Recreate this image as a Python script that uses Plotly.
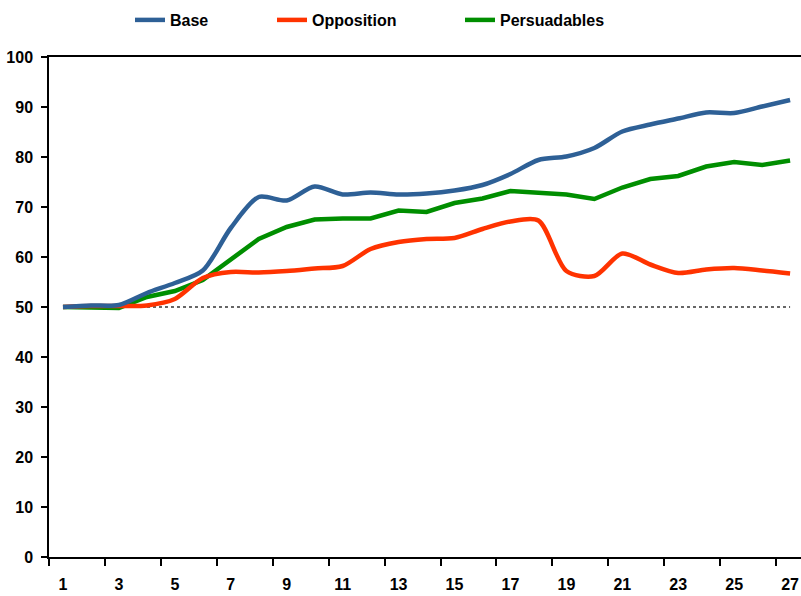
import plotly.graph_objects as go

categories = list(range(1, 28))
base = [50, 50.3, 50.4, 52.8, 54.8, 57.3, 65.8, 72.0, 71.3, 74.1, 72.5, 72.9, 72.5, 72.7,
        73.3, 74.4, 76.6, 79.4, 80.1, 81.8, 85.1, 86.5, 87.7, 88.9, 88.8, 90.1, 91.4]
opposition = [50, 50.2, 50.2, 50.3, 51.6, 55.8, 57.0, 56.9, 57.2, 57.7, 58.2, 61.6, 63.0, 63.6,
              63.8, 65.6, 67.1, 67.3, 57.2, 56.2, 60.7, 58.5, 56.8, 57.5, 57.8, 57.3, 56.7]
persuadables = [50, 49.8, 49.8, 52.0, 53.2, 55.4, 59.4, 63.6, 66.0, 67.5, 67.7, 67.7, 69.3, 69.0,
                70.8, 71.7, 73.2, 72.8, 72.5, 71.6, 73.9, 75.6, 76.2, 78.1, 79.0, 78.4, 79.3]
reference = [50] * 27
tick_labels = [str(c) for c in range(1, 28, 2)]
y_ticks = list(range(0, 101, 10))

FONT = "Liberation Sans, Arial, sans-serif"
FS = 16
W, H = 801, 596

fig = go.Figure()
fig.add_trace(go.Scatter(x=categories, y=reference, mode="lines", showlegend=False,
                         line=dict(color="#333333", width=1.5, dash="dot"), hoverinfo="skip"))
fig.add_trace(go.Scatter(x=categories, y=persuadables, name="Persuadables", mode="lines",
                         line=dict(color="#008E00", width=4.5), legend="legend3"))
fig.add_trace(go.Scatter(x=categories, y=opposition, name="Opposition", mode="lines",
                         line=dict(color="#FF3300", width=4.5, shape="spline", smoothing=0.8),
                         legend="legend2"))
fig.add_trace(go.Scatter(x=categories, y=base, name="Base", mode="lines",
                         line=dict(color="#2E6096", width=4.5, shape="spline", smoothing=0.8),
                         legend="legend"))

legend_common = dict(orientation="h", yref="container", yanchor="middle", y=1 - 20 / H,
                     xref="container", xanchor="left",
                     font=dict(family=FONT, size=FS, color="#000000", weight="bold"),
                     bgcolor="rgba(0,0,0,0)", borderwidth=0, itemwidth=30)

fig.update_layout(
    width=W, height=H,
    margin=dict(l=49, r=0, t=57, b=39, autoexpand=False),
    paper_bgcolor="white", plot_bgcolor="white",
    font=dict(family=FONT, size=FS, color="#000000", weight="bold"),
    legend=dict(**legend_common, x=130 / W),
    legend2=dict(**legend_common, x=272 / W),
    legend3=dict(**legend_common, x=460 / W),
    xaxis=dict(range=[0.5, 27.39], tickvals=list(range(1, 28, 2)), ticktext=tick_labels,
               ticks="outside", ticklen=12, tickcolor="rgba(0,0,0,0)", automargin=False,
               showline=True, linecolor="#000000", linewidth=1.5, mirror=True,
               showgrid=False, zeroline=False,
               tickfont=dict(family=FONT, size=FS, color="#000000", weight="bold"),
               minor=dict(tickvals=[0.5 + 2 * k for k in range(14)], ticks="outside",
                          ticklen=7, tickcolor="#000000", tickwidth=1.5, showgrid=False)),
    yaxis=dict(range=[0, 100], tickvals=y_ticks, ticks="outside", ticklen=6,
               tickcolor="#000000", tickwidth=1.5, automargin=False, ticklabelstandoff=5,
               showline=True, linecolor="#000000", linewidth=1.5,
               showgrid=False, zeroline=False,
               tickfont=dict(family=FONT, size=FS, color="#000000", weight="bold")),
)

fig.write_html(
    "out.html",
    config={"displayModeBar": False},
    post_script="document.body.style.margin='0';document.body.style.overflow='hidden';",
)
